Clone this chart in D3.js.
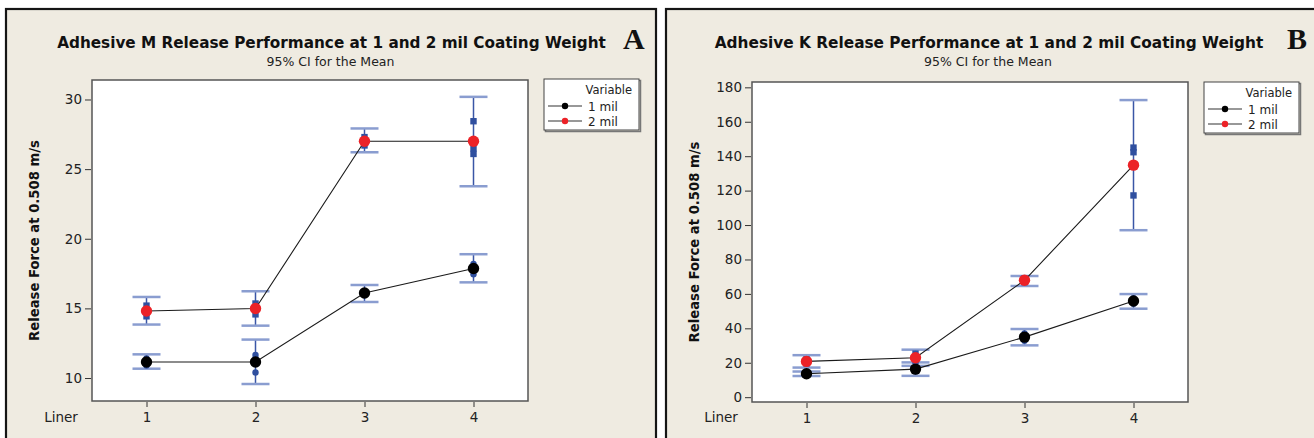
<!DOCTYPE html>
<html>
<head>
<meta charset="utf-8">
<script src="https://cdn.jsdelivr.net/npm/d3@7"></script>
<style>
  body { margin: 0; background: #fff; }
  svg { display: block; font-family: "DejaVu Sans", Verdana, sans-serif; }
</style>
</head>
<body>
<svg id="fig" width="1314" height="438"></svg>
<script>
// x categories
var liners = [1, 2, 3, 4];
var seriesNames = ['1 mil', '2 mil'];

// panel A: adhesive M (mean, 95% CI, individual runs)
var mTicks = [10, 15, 20, 25, 30];
var m1Mean = [11.15, 11.15, 16.1, 17.86];
var m1Low = [10.67, 9.57, 15.46, 16.87];
var m1High = [11.7, 12.76, 16.68, 18.89];
var m1Obs = [[11.4, 11.15, 10.9], [11.65, 11.4, 10.4], [16.2, 15.95, 16.15], [18.2, 17.95, 17.45]];
var m2Mean = [14.81, 14.99, 27.0, 27.0];
var m2Low = [13.84, 13.76, 26.21, 23.77];
var m2High = [15.82, 16.23, 27.92, 30.19];
var m2Obs = [[15.2, 14.8, 14.43], [15.35, 15.05, 14.57], [27.3, 27.0, 26.7], [28.44, 26.49, 26.09]];

// panel B: adhesive K
var kTicks = [0, 20, 40, 60, 80, 100, 120, 140, 160, 180];
var k1Mean = [13.6, 16.3, 34.9, 55.9];
var k1Low = [12.3, 12.4, 30.1, 51.4];
var k1High = [14.9, 20.2, 39.6, 59.9];
var k1Obs = [[14.1, 13.6, 13.1], [17.6, 16.3, 15.0], [37.0, 34.9, 32.8], [57.5, 55.9, 54.3]];
var k2Mean = [20.8, 22.9, 67.9, 134.8];
var k2Low = [17.2, 18.2, 64.6, 97.0];
var k2High = [24.4, 27.6, 70.4, 172.6];
var k2Obs = [[22.0, 20.8, 19.6], [25.3, 22.4, 21.0], [69.0, 67.9, 66.8], [145.0, 142.3, 117.2]];

var panelBg = '#efebe1';
var ciColor = '#3a56a6';
var capColor = '#8a9dd0';
var obsColor = '#2f4f9f';
var meanColors = ['#000000', '#ec2227'];

function series(means, lows, highs, obs) {
  return liners.map(function(l, i) {
    return {liner: l, mean: means[i], low: lows[i], high: highs[i], obs: obs[i]};
  });
}

// shrink/grow font so the text spans the wanted width
function fitText(sel, width) {
  var size = parseFloat(sel.style('font-size'));
  var w = sel.node().getComputedTextLength();
  sel.style('font-size', (size * width / w) + 'px');
}

var svg = d3.select('#fig');

function drawPanel(p) {
  var g = svg.append('g');

  g.append('rect')
    .attr('x', p.x0).attr('y', 9)
    .attr('width', p.w).attr('height', 460)
    .attr('fill', panelBg)
    .attr('stroke', '#151515').attr('stroke-width', 2.2);

  var title = g.append('text')
    .attr('x', p.titleX).attr('y', 48)
    .attr('text-anchor', 'middle')
    .style('font-weight', 'bold').style('font-size', '13px')
    .attr('fill', '#111')
    .text(p.title);
  fitText(title, 549);

  g.append('text')
    .attr('x', p.titleX - 1).attr('y', 66)
    .attr('text-anchor', 'middle')
    .style('font-size', '12.5px')
    .attr('fill', '#222')
    .text('95% CI for the Mean');

  g.append('text')
    .attr('x', p.letterX).attr('y', 49)
    .style('font-family', '"Liberation Serif", "DejaVu Serif", serif')
    .style('font-weight', 'bold').style('font-size', '30px')
    .attr('fill', '#111')
    .text(p.letter);

  var x = d3.scaleLinear().domain([0.5, 4.5]).range([p.left, p.right]);
  var y = d3.scaleLinear().domain(p.yDomain).range([p.bottom, p.top]);

  g.append('rect')
    .attr('x', p.left).attr('y', p.top)
    .attr('width', p.right - p.left).attr('height', p.bottom - p.top)
    .attr('fill', '#fff')
    .attr('stroke', '#555').attr('stroke-width', 1.5);

  var yAxis = g.append('g')
    .attr('transform', 'translate(' + (p.left - 1) + ',0)')
    .call(d3.axisLeft(y).tickValues(p.ticks).tickSize(6).tickPadding(3));
  var xAxis = g.append('g')
    .attr('transform', 'translate(0,' + (p.bottom + 1) + ')')
    .call(d3.axisBottom(x).tickValues(liners).tickFormat(d3.format('d')).tickSize(5).tickPadding(5));
  [yAxis, xAxis].forEach(function(a) {
    a.select('.domain').remove();
    a.selectAll('.tick line').attr('stroke', '#333');
    a.selectAll('.tick text')
      .attr('fill', '#222')
      .style('font-size', '13.5px')
      .style('font-family', '"DejaVu Sans", Verdana, sans-serif');
  });

  g.append('text')
    .attr('x', p.linerX).attr('y', 422)
    .attr('text-anchor', 'middle')
    .style('font-size', '13.5px')
    .attr('fill', '#222')
    .text('Liner');

  var ylab = g.append('text')
    .attr('transform', 'translate(' + p.ylabX + ',' + ((p.top + p.bottom) / 2) + ') rotate(-90)')
    .attr('text-anchor', 'middle')
    .style('font-weight', 'bold').style('font-size', '12px')
    .attr('fill', '#111')
    .text('Release Force at 0.508 m/s');
  fitText(ylab, 201);

  var capHalf = 14;
  var plot = g.append('g');

  // CI bars
  p.data.forEach(function(s) {
    var bars = plot.selectAll(null).data(s).enter().append('g');
    bars.append('line')
      .attr('x1', function(d) { return x(d.liner); })
      .attr('x2', function(d) { return x(d.liner); })
      .attr('y1', function(d) { return y(d.low); })
      .attr('y2', function(d) { return y(d.high); })
      .attr('stroke', ciColor).attr('stroke-width', 1.5);
    ['low', 'high'].forEach(function(k) {
      bars.append('line')
        .attr('x1', function(d) { return x(d.liner) - capHalf; })
        .attr('x2', function(d) { return x(d.liner) + capHalf; })
        .attr('y1', function(d) { return y(d[k]); })
        .attr('y2', function(d) { return y(d[k]); })
        .attr('stroke', capColor).attr('stroke-width', 2.5);
    });
  });

  // individual observations: circles for 1 mil, squares for 2 mil
  p.data.forEach(function(s, si) {
    var pts = [];
    s.forEach(function(d) {
      d.obs.forEach(function(v) { pts.push({liner: d.liner, value: v}); });
    });
    if (si === 0) {
      plot.selectAll(null).data(pts).enter().append('circle')
        .attr('cx', function(d) { return x(d.liner); })
        .attr('cy', function(d) { return y(d.value); })
        .attr('r', 3.2)
        .attr('fill', obsColor);
    } else {
      plot.selectAll(null).data(pts).enter().append('rect')
        .attr('x', function(d) { return x(d.liner) - 3.2; })
        .attr('y', function(d) { return y(d.value) - 3.2; })
        .attr('width', 6.4).attr('height', 6.4)
        .attr('fill', obsColor);
    }
  });

  var line = d3.line()
    .x(function(d) { return x(d.liner); })
    .y(function(d) { return y(d.mean); });

  p.data.forEach(function(s) {
    plot.append('path')
      .datum(s)
      .attr('d', line)
      .attr('fill', 'none')
      .attr('stroke', '#1a1a1a').attr('stroke-width', 1.1);
  });

  p.data.forEach(function(s, si) {
    plot.selectAll(null).data(s).enter().append('circle')
      .attr('cx', function(d) { return x(d.liner); })
      .attr('cy', function(d) { return y(d.mean); })
      .attr('r', 5.7)
      .attr('fill', meanColors[si]);
  });

  // legend
  var lg = g.append('g').attr('transform', 'translate(' + p.legX + ',' + p.legY + ')');
  lg.append('rect')
    .attr('x', 1.5).attr('y', 1.5).attr('width', 95).attr('height', 51)
    .attr('fill', 'none').attr('stroke', '#777').attr('stroke-width', 1.5);
  lg.append('rect')
    .attr('width', 95).attr('height', 51)
    .attr('fill', '#fff').attr('stroke', '#444').attr('stroke-width', 1);
  lg.append('text')
    .attr('x', 88).attr('y', 15)
    .attr('text-anchor', 'end')
    .style('font-size', '11.5px')
    .attr('fill', '#222')
    .text('Variable');
  seriesNames.forEach(function(name, i) {
    var ly = 27 + i * 15;
    lg.append('line')
      .attr('x1', 4).attr('x2', 38).attr('y1', ly).attr('y2', ly)
      .attr('stroke', '#333').attr('stroke-width', 1.2);
    lg.append('circle')
      .attr('cx', 21).attr('cy', ly).attr('r', 3.2)
      .attr('fill', meanColors[i]);
    lg.append('text')
      .attr('x', 44).attr('y', ly + 4.5)
      .style('font-size', '12px')
      .attr('fill', '#222')
      .text(name);
  });
}

drawPanel({
  x0: 6, w: 650,
  title: 'Adhesive M Release Performance at 1 and 2 mil Coating Weight',
  titleX: 331.5, letter: 'A', letterX: 623,
  left: 92, right: 528, top: 80, bottom: 401,
  yDomain: [8.35, 31.4], ticks: mTicks,
  linerX: 61, ylabX: 39,
  legX: 544, legY: 79,
  data: [series(m1Mean, m1Low, m1High, m1Obs), series(m2Mean, m2Low, m2High, m2Obs)]
});

drawPanel({
  x0: 666, w: 700,
  title: 'Adhesive K Release Performance at 1 and 2 mil Coating Weight',
  titleX: 989, letter: 'B', letterX: 1287,
  left: 752, right: 1188, top: 82, bottom: 402,
  yDomain: [-2.8, 183.1], ticks: kTicks,
  linerX: 721, ylabX: 699,
  legX: 1204, legY: 82,
  data: [series(k1Mean, k1Low, k1High, k1Obs), series(k2Mean, k2Low, k2High, k2Obs)]
});
</script>
</body>
</html>
